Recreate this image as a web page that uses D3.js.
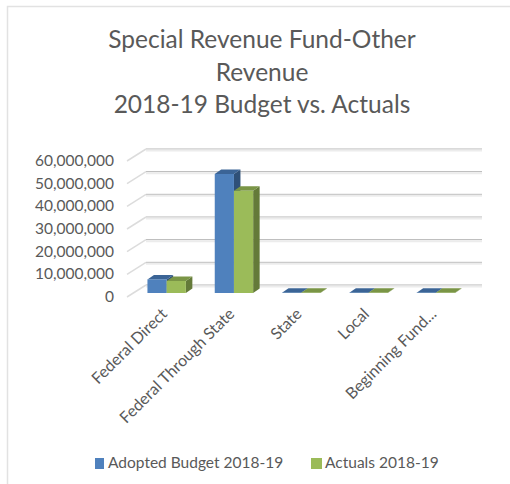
<!DOCTYPE html>
<html>
<head>
<meta charset="utf-8">
<script src="https://cdnjs.cloudflare.com/ajax/libs/d3/7.8.5/d3.min.js"></script>
<style>
  html, body { margin: 0; padding: 0; background: #fff; }
  svg { display: block; }
  text { font-family: Lato, "Open Sans", sans-serif; fill: #595959; }
</style>
</head>
<body>
<svg id="chart" width="510" height="484"></svg>
<script>
// Revenue lines and the two budget series, in dollars
const categories = ["Federal Direct", "Federal Through State", "State", "Local", "Beginning Fund..."];
const adoptedBudget = [6000000, 52500000, 100000, 100000, 100000];
const actuals = [5300000, 45100000, 100000, 100000, 100000];
const yTicks = [0, 10000000, 20000000, 30000000, 40000000, 50000000, 60000000];
const titleLines = ["Special Revenue Fund-Other", "Revenue", "2018-19 Budget vs. Actuals"];

const seriesList = [
  { name: "Adopted Budget 2018-19", values: adoptedBudget, front: "#4f81bd", top: "#3b6496", side: "#2f5078" },
  { name: "Actuals 2018-19", values: actuals, front: "#9bbb59", top: "#7a9546", side: "#647a39" }
];

const svg = d3.select("#chart");

// Chart frame: the top and left edges fall inside the page
svg.append("path").attr("d", "M7.5,484V6.5H510")
  .attr("fill", "none").attr("stroke", "#e2e2e2").attr("stroke-width", 1.5);

// Title
svg.append("g").selectAll("text").data(titleLines).join("text")
  .attr("x", 262).attr("y", (d, i) => 48 + i * 32.7)
  .attr("text-anchor", "middle").attr("font-size", 24.5)
  .text(d => d);

// Back wall scale; the side wall runs from it down to the front of the floor
const wallY = d3.scaleLinear().domain([0, 60000000]).range([285, 149]);
const wallLeft = 146, wallRight = 482;
const depthX = -19, depthY = 12;

const grid = svg.append("g");
yTicks.forEach(t => {
  const y = wallY(t);
  grid.append("line").attr("x1", wallLeft).attr("x2", wallRight).attr("y1", y).attr("y2", y)
    .attr("stroke", "#b4b4b4").attr("stroke-width", 1);
  grid.append("line").attr("x1", wallLeft).attr("x2", wallRight).attr("y1", y + 1.5).attr("y2", y + 1.5)
    .attr("stroke", "#ececec").attr("stroke-width", 2);
  grid.append("line").attr("x1", wallLeft).attr("x2", wallLeft + depthX)
    .attr("y1", y).attr("y2", y + depthY)
    .attr("stroke", "#dcdcdc").attr("stroke-width", 1.5);
});

// Value labels beside the front edge of the floor
const fmt = d3.format(",");
svg.append("g").selectAll("text").data(yTicks).join("text")
  .attr("x", 114).attr("y", d => wallY(d) + 17)
  .attr("text-anchor", "end").attr("font-size", 15.5)
  .text(d => fmt(d));

// Category bands along the floor, with the two bars side by side
const x = d3.scaleBand().domain(categories).range([133.5, 470]);
const barW = 19.2;
const barGroupOffset = (x.bandwidth() - 2 * barW) / 2 - 0.5;
const baseY = 293;
const barDX = 6.5, barDY = 4.5;
const barHeight = v => wallY(0) - wallY(v);

const poly = pts => pts.map(p => p.join(",")).join(" ");

const barGroups = svg.append("g").selectAll("g").data(categories).join("g");
barGroups.each(function (cat, ci) {
  const g = d3.select(this);
  seriesList.forEach((s, si) => {
    const x0 = x(cat) + barGroupOffset + si * barW;
    const x1 = x0 + barW;
    const top = baseY - barHeight(s.values[ci]);
    // right side face
    g.append("polygon")
      .attr("points", poly([[x1, top], [x1 + barDX, top - barDY], [x1 + barDX, baseY - barDY], [x1, baseY]]))
      .attr("fill", s.side);
    // top face
    g.append("polygon")
      .attr("points", poly([[x0, top], [x0 + barDX, top - barDY], [x1 + barDX, top - barDY], [x1, top]]))
      .attr("fill", s.top);
    // front face
    g.append("rect")
      .attr("x", x0).attr("y", top).attr("width", barW).attr("height", baseY - top)
      .attr("fill", s.front);
  });
});

// Slanted category labels ending under each bar group
svg.append("g").selectAll("text").data(categories).join("text")
  .attr("text-anchor", "end").attr("font-size", 16)
  .attr("transform", d => `translate(${x(d) + x.bandwidth() / 2 + 1},${315}) rotate(-45)`)
  .text(d => d);

// Legend
const legendItems = [
  { x: 95, w: 9, textX: 108, s: seriesList[0] },
  { x: 311, w: 11, textX: 325, s: seriesList[1] }
];
const legend = svg.append("g");
legendItems.forEach(item => {
  legend.append("rect").attr("x", item.x).attr("y", 458).attr("width", item.w).attr("height", 11)
    .attr("fill", item.s.front);
  legend.append("text").attr("x", item.textX).attr("y", 468).attr("font-size", 15.5)
    .text(item.s.name);
});
</script>
</body>
</html>
